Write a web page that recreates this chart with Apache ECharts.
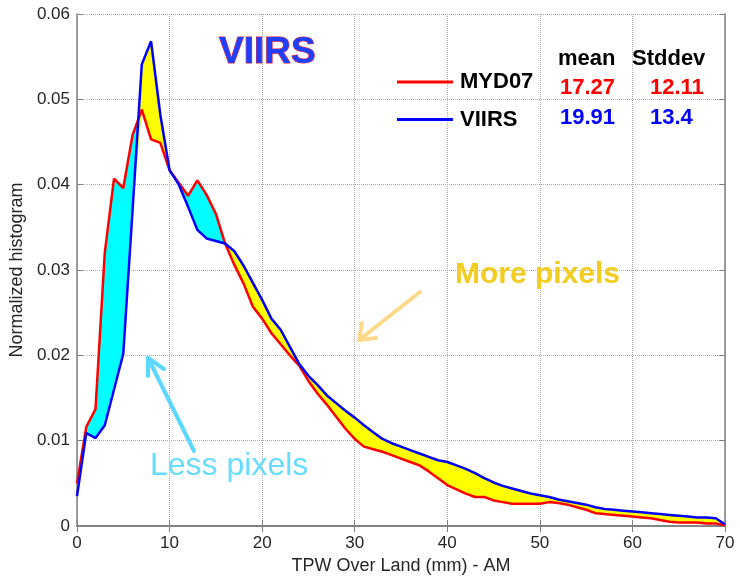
<!DOCTYPE html>
<html lang="en">
<head>
    <meta charset="UTF-8">
    <title>TPW Over Land - AM</title>
    <script src="https://cdn.jsdelivr.net/npm/echarts@6/dist/echarts.min.js"></script>
    <style>
        html, body { margin: 0; padding: 0; background: #fff; }
    </style>
</head>
<body>
    <div id="myChart" style="width: 740px;height: 581px;"></div>
    <script>
        // TPW bins (mm), 0..70
        var tpw = [];
        for (var i = 0; i <= 70; i++) tpw.push(String(i));

        var myd07 = [0.0050, 0.0116, 0.0137, 0.0320, 0.0407, 0.0396, 0.0458, 0.0488, 0.0453, 0.0449,
            0.0417, 0.0402, 0.0387, 0.0405, 0.0388, 0.0366, 0.0331, 0.0306, 0.0284, 0.0257,
            0.0243, 0.0226, 0.0213, 0.0200, 0.0188, 0.0170, 0.0155, 0.0142, 0.0128, 0.0114,
            0.0102, 0.0093, 0.0090, 0.0087, 0.0083, 0.0079, 0.0075, 0.0071, 0.0064, 0.0056,
            0.0048, 0.0043, 0.0038, 0.0034, 0.0034, 0.0030, 0.0028, 0.0026, 0.0026, 0.0026,
            0.0026, 0.0028, 0.0027, 0.0025, 0.0022, 0.0019, 0.0015, 0.0014, 0.0013, 0.0012,
            0.0011, 0.0010, 0.0009, 0.0007, 0.0005, 0.0004, 0.0004, 0.0004, 0.0003, 0.0003,
            0.0001];

        var viirs = [0.0035, 0.0109, 0.0103, 0.0118, 0.0160, 0.0202, 0.0370, 0.0541, 0.0568, 0.0482,
            0.0417, 0.0400, 0.0374, 0.0347, 0.0337, 0.0334, 0.0331, 0.0322, 0.0305, 0.0285,
            0.0265, 0.0243, 0.0230, 0.0210, 0.0190, 0.0176, 0.0165, 0.0153, 0.0144, 0.0135,
            0.0127, 0.0118, 0.0110, 0.0102, 0.0097, 0.0093, 0.0089, 0.0085, 0.0081, 0.0077,
            0.0075, 0.0071, 0.0067, 0.0062, 0.0056, 0.0051, 0.0047, 0.0044, 0.0041, 0.0038,
            0.0036, 0.0034, 0.0031, 0.0029, 0.0027, 0.0025, 0.0022, 0.0020, 0.0019, 0.0018,
            0.0017, 0.0016, 0.0015, 0.0014, 0.0013, 0.0012, 0.0011, 0.0010, 0.0010, 0.0009,
            0.0002];

        var statHeader = ['mean', 'Stddev'];
        var statMyd07 = ['17.27', '12.11'];
        var statViirs = ['19.91', '13.4'];

        // bands between the two curves
        var lower = [], lessBand = [], moreBand = [];
        for (var k = 0; k < myd07.length; k++) {
            var lo = Math.min(myd07[k], viirs[k]);
            lower.push(lo);
            lessBand.push(myd07[k] - lo);
            moreBand.push(viirs[k] - lo);
        }

        var FONT = '"Liberation Sans", Arial, sans-serif';
        var AXIS = '#7f7f7f';

        function label(x, y, text, size, color, weight) {
            return {
                type: 'text', x: x, y: y, z: 10,
                style: { text: text, fontFamily: FONT, fontSize: size, fontWeight: weight || 'bold',
                         fill: color, verticalAlign: 'middle' }
            };
        }

        var myChart = echarts.init(document.getElementById('myChart'));
        var option = {
            animation: false,
            grid: { left: 77, right: 15, top: 14, bottom: 55 },
            legend: {
                data: [
                    { name: 'MYD07', icon: 'rect' },
                    { name: 'VIIRS', icon: 'rect' }
                ],
                orient: 'vertical',
                left: 397,
                top: 71,
                padding: 0,
                itemWidth: 56,
                itemHeight: 3,
                itemGap: 15.5,
                selectedMode: false,
                textStyle: { fontFamily: FONT, fontSize: 22, fontWeight: 'bold', color: '#000', padding: [0, 0, 0, 2] }
            },
            xAxis: [{
                type: 'category',
                data: tpw,
                boundaryGap: false,
                name: 'TPW Over Land (mm) - AM',
                nameLocation: 'middle',
                nameGap: 30,
                nameTextStyle: { fontFamily: FONT, fontSize: 18, color: '#262626' },
                axisLine: { lineStyle: { color: AXIS, width: 1.5 } },
                axisTick: { inside: true, interval: 9, length: 6, lineStyle: { color: AXIS } },
                axisLabel: { interval: 9, fontFamily: FONT, fontSize: 17, color: '#262626', margin: 9 },
                splitLine: { show: true, interval: 9, lineStyle: { color: '#b0b0b0', type: 'dotted' } }
            }, {
                type: 'category',
                data: tpw,
                boundaryGap: false,
                position: 'top',
                axisLine: { lineStyle: { color: AXIS, width: 1.5 } },
                axisTick: { inside: true, interval: 9, length: 6, lineStyle: { color: AXIS } },
                axisLabel: { show: false }
            }],
            yAxis: [{
                type: 'value',
                min: 0,
                max: 0.06,
                interval: 0.01,
                name: 'Normalized histogram',
                nameLocation: 'middle',
                nameGap: 50,
                nameTextStyle: { fontFamily: FONT, fontSize: 18, color: '#262626' },
                axisLine: { show: true, lineStyle: { color: AXIS, width: 1.5 } },
                axisTick: { show: true, inside: true, length: 6, lineStyle: { color: AXIS } },
                axisLabel: { fontFamily: FONT, fontSize: 17, color: '#262626', margin: 7 },
                splitLine: { show: true, lineStyle: { color: '#b0b0b0', type: 'dotted' } }
            }, {
                type: 'value',
                min: 0,
                max: 0.06,
                interval: 0.01,
                position: 'right',
                axisLine: { show: true, lineStyle: { color: AXIS, width: 1.5 } },
                axisTick: { show: true, inside: true, length: 6, lineStyle: { color: AXIS } },
                axisLabel: { show: false },
                splitLine: { show: false }
            }],
            series: [
                { name: 'lowerA', type: 'line', stack: 'less', data: lower, symbol: 'none',
                  lineStyle: { opacity: 0 }, silent: true, z: 1 },
                { name: 'less', type: 'line', stack: 'less', data: lessBand, symbol: 'none',
                  lineStyle: { opacity: 0 }, areaStyle: { color: '#00ffff', opacity: 1 }, silent: true, z: 1 },
                { name: 'lowerB', type: 'line', stack: 'more', data: lower, symbol: 'none',
                  lineStyle: { opacity: 0 }, silent: true, z: 1 },
                { name: 'more', type: 'line', stack: 'more', data: moreBand, symbol: 'none',
                  lineStyle: { opacity: 0 }, areaStyle: { color: '#ffff00', opacity: 1 }, silent: true, z: 1 },
                { name: 'MYD07', type: 'line', data: myd07, symbol: 'none',
                  lineStyle: { color: '#ff0000', width: 2.5 }, itemStyle: { color: '#ff0000' }, z: 3 },
                { name: 'VIIRS', type: 'line', data: viirs, symbol: 'none',
                  lineStyle: { color: '#0000ff', width: 2.5 }, itemStyle: { color: '#0000ff' }, z: 4 }
            ],
            graphic: [
                { type: 'text', x: 219, y: 53, z: 10,
                  style: { text: 'VIIRS', fontFamily: FONT, fontSize: 37, fontWeight: 'bold', verticalAlign: 'middle',
                           fill: '#1f3fff', stroke: '#ff2020', lineWidth: 1,
                           shadowColor: 'rgba(40,90,255,0.8)', shadowBlur: 4 } },
                label(558, 59, statHeader[0], 22, '#000'),
                label(632, 59, statHeader[1], 22, '#000'),
                label(560, 88, statMyd07[0], 22, '#ff0000'),
                label(650, 88, statMyd07[1], 22, '#ff0000'),
                label(560, 118, statViirs[0], 22, '#0000ff'),
                label(650, 118, statViirs[1], 22, '#0000ff'),
                { type: 'text', x: 455, y: 275, z: 10,
                  style: { text: 'More pixels', fontFamily: FONT, fontSize: 30, fontWeight: 'bold', verticalAlign: 'middle',
                           fill: '#f2cc1e', shadowColor: 'rgba(245,210,60,0.9)', shadowBlur: 8 } },
                { type: 'text', x: 150, y: 466, z: 10,
                  style: { text: 'Less pixels', fontFamily: FONT, fontSize: 32, verticalAlign: 'middle',
                           fill: '#66dcff', shadowColor: 'rgba(102,220,255,0.9)', shadowBlur: 8 } },
                // arrows
                { type: 'polyline', z: 10, shape: { points: [[420, 292], [359, 340]] },
                  style: { stroke: '#ffd98a', lineWidth: 4, lineCap: 'round' } },
                { type: 'polyline', z: 10, shape: { points: [[362, 323], [359, 340], [376, 338]] },
                  style: { stroke: '#ffd98a', lineWidth: 4, fill: null, lineCap: 'round', lineJoin: 'round' } },
                { type: 'polyline', z: 10, shape: { points: [[194, 451], [148, 358]] },
                  style: { stroke: '#5ad8ff', lineWidth: 4, lineCap: 'round' } },
                { type: 'polyline', z: 10, shape: { points: [[148, 376], [148, 358], [164, 369]] },
                  style: { stroke: '#5ad8ff', lineWidth: 4, fill: null, lineCap: 'round', lineJoin: 'round' } }
            ]
        };

        myChart.setOption(option);
    </script>
</body>
</html>
